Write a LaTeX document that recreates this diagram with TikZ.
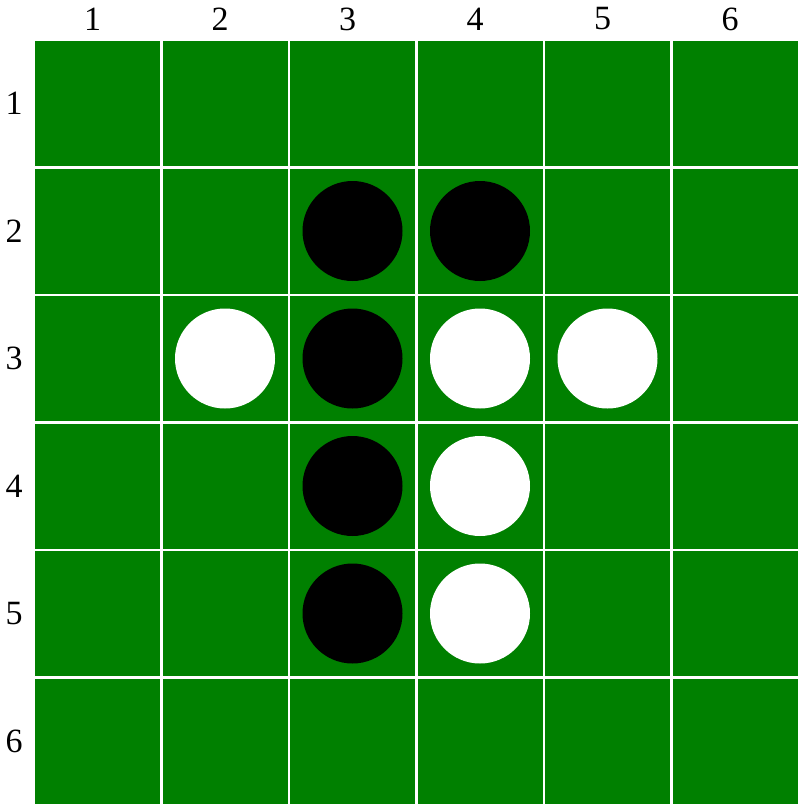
\documentclass[tikz,border=0pt]{standalone}
\usepackage{fontspec}
\setmainfont{Liberation Serif}
\definecolor{boardgreen}{RGB}{0,128,0}
\tikzset{
  cell/.style={fill=boardgreen, draw=none},
  blackstone/.style={circle, fill=black, draw=none, minimum size=100pt, inner sep=0pt},
  whitestone/.style={circle, fill=white, draw=none, minimum size=100pt, inner sep=0pt},
  lbl/.style={font=\fontsize{34}{34}\selectfont, inner sep=0pt, text=black}
}
\begin{document}
\begin{tikzpicture}[x=1pt,y=-1pt]
\useasboundingbox (0,0) rectangle (805,809);
\fill[white] (0,0) rectangle (805,809);
\foreach \c in {1,...,6}{
  \foreach \r in {1,...,6}{
    \fill[boardgreen] ({35+(\c-1)*127.5},{41+(\r-1)*127.5}) rectangle ++(125,125);
  }
  \node[lbl] (col\c) at ({92.5+(\c-1)*127.5},19) {\c};
  \node[lbl] (row\c) at (14,{103.5+(\c-1)*127.5}) {\c};
}
% stones: (col,row)
\foreach \c/\r [count=\i] in {3/2,4/2,3/3,3/4,3/5}{
  \node[blackstone] (b\i) at ({97.5+(\c-1)*127.5},{103.5+(\r-1)*127.5}) {};
}
\foreach \c/\r [count=\i] in {2/3,4/3,5/3,4/4,4/5}{
  \node[whitestone] (w\i) at ({97.5+(\c-1)*127.5},{103.5+(\r-1)*127.5}) {};
}
\end{tikzpicture}
\end{document}
